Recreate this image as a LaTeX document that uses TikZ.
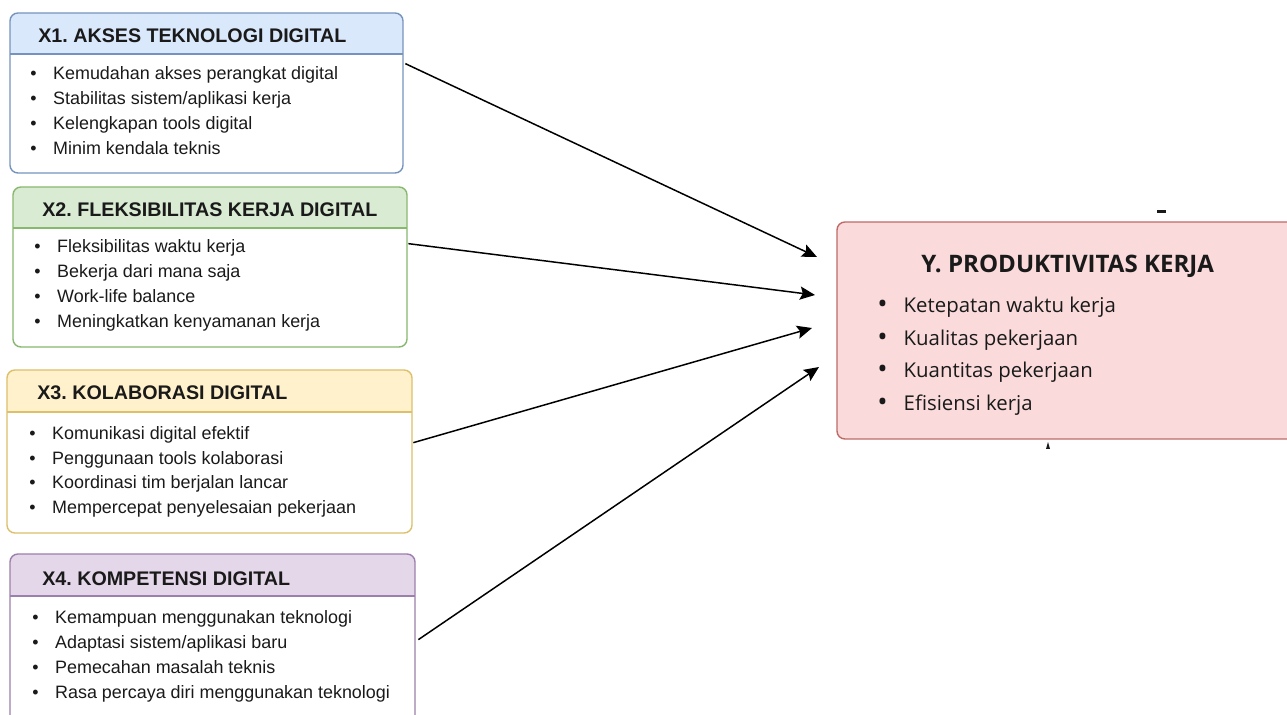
\documentclass[tikz,border=0pt]{standalone}
\usepackage{fontspec}
\setmainfont{Liberation Sans}
\newfontfamily\yfont{Open Sans}
\usetikzlibrary{arrows.meta,fit}
\frenchspacing
\definecolor{bluef}{HTML}{DAE8FC}\definecolor{blued}{HTML}{7593BD}
\definecolor{greenf}{HTML}{D9EBD3}\definecolor{greend}{HTML}{88B86E}
\definecolor{yellowf}{HTML}{FFF1CC}\definecolor{yellowd}{HTML}{DCC06A}
\definecolor{purplef}{HTML}{E4D7EA}\definecolor{purpled}{HTML}{9C7FAC}
\definecolor{redf}{HTML}{FADADA}\definecolor{redd}{HTML}{BE6B68}
\definecolor{txt}{HTML}{1A1A1A}
\tikzset{
  boxline/.style={line width=0.8pt, rounded corners=4.5pt},
  htitle/.style={anchor=base west, inner sep=0pt, font=\fontsize{11.2}{13}\selectfont\bfseries, text=txt},
  item/.style={anchor=base west, inner sep=0pt, font=\fontsize{10.2}{12}\selectfont, text=txt},
  yitem/.style={anchor=base west, inner sep=0pt, font=\yfont\fontsize{11.6}{13}\selectfont, text=txt},
  ytitle/.style={anchor=base west, inner sep=0pt, font=\yfont\bfseries\fontsize{13.7}{15}\selectfont, text=txt},
  conn/.style={line width=0.85pt, -{Stealth[length=8.5pt,width=7.5pt,inset=1.5pt]}},
}
\newcommand\mkbox[8]{%
  \begin{scope}
    \clip[rounded corners=4.5pt] (#2,#3) rectangle (#4,#6);
    \fill[#7] (#2,#3) rectangle (#4,#5);
  \end{scope}
  \draw[boxline, draw=#8] (#2,#3) rectangle (#4,#6);
  \draw[line width=0.8pt, draw=#8] (#2,#5) -- (#4,#5);
  \node[fit={(#2,#3) (#4,#6)}, inner sep=0pt] (#1) {};
}
\newcommand\ybul{\makebox[15pt][l]{\raisebox{-0.3pt}{\scalebox{1.35}{\textbullet}}}}
\begin{document}
\begin{tikzpicture}[x=0.02cm,y=-0.02cm]
\clip (0,0) rectangle (1287,715);
\fill[white] (0,0) rectangle (1287,715);

% X1
\mkbox{x1}{10}{13}{403}{54}{173}{bluef}{blued}
\node[htitle] (x1t) at (38,43) {X1. AKSES TEKNOLOGI DIGITAL};
\foreach \t [count=\i] in {Kemudahan akses perangkat digital, Stabilitas sistem/aplikasi kerja, Kelengkapan tools digital, Minim kendala teknis}
  \node[item] (x1i\i) at (30,55+25*\i) {\makebox[13pt][l]{\textbullet}\t};

% X2
\mkbox{x2}{13}{187}{407}{228}{347}{greenf}{greend}
\node[htitle] (x2t) at (42,217) {X2. FLEKSIBILITAS KERJA DIGITAL};
\foreach \t [count=\i] in {Fleksibilitas waktu kerja, Bekerja dari mana saja, Work-life balance, Meningkatkan kenyamanan kerja}
  \node[item] (x2i\i) at (34,228+25*\i) {\makebox[13pt][l]{\textbullet}\t};

% X3
\mkbox{x3}{7}{370}{412}{412}{533}{yellowf}{yellowd}
\node[htitle] (x3t) at (37,400) {X3. KOLABORASI DIGITAL};
\foreach \t [count=\i] in {Komunikasi digital efektif, Penggunaan tools kolaborasi, Koordinasi tim berjalan lancar, Mempercepat penyelesaian pekerjaan}
  \node[item] (x3i\i) at (29,415.5+24.5*\i) {\makebox[13pt][l]{\textbullet}\t};

% X4
\mkbox{x4}{10}{554}{415}{596}{740}{purplef}{purpled}
\node[htitle] (x4t) at (42,585) {X4. KOMPETENSI DIGITAL};
\foreach \t [count=\i] in {Kemampuan menggunakan teknologi, Adaptasi sistem/aplikasi baru, Pemecahan masalah teknis, Rasa percaya diri menggunakan teknologi}
  \node[item] (x4i\i) at (32,598+25*\i) {\makebox[13pt][l]{\textbullet}\t};

% Y
\draw[boxline, fill=redf, draw=redd] (837,222) rectangle (1300,439);
\node[fit={(837,222) (1300,439)}, inner sep=0pt] (y) {};
\node[ytitle] (yt) at (921,273) {Y. PRODUKTIVITAS KERJA};
\foreach \t [count=\i] in {Ketepatan waktu kerja, Kualitas pekerjaan, Kuantitas pekerjaan, Efisiensi kerja}
  \node[yitem] (yi\i) at (877,280.5+32.5*\i) {\ybul\t};

% small marks
\fill[txt] (1157,210.5) rectangle (1166,213.5);
\fill[txt] (1048,442) -- (1050,449) -- (1046,449) -- cycle;

% connectors
\coordinate (t1) at (817,257);
\coordinate (t2) at (815,295);
\coordinate (t3) at (812,328);
\coordinate (t4) at (819,367);
\draw[conn] ([shift={(2,51)}]x1.north east) -- (t1);
\draw[conn] ([shift={(1,57)}]x2.north east) -- (t2);
\draw[conn] ([shift={(1,73)}]x3.north east) -- (t3);
\draw[conn] ([shift={(3,86)}]x4.north east) -- (t4);
\end{tikzpicture}
\end{document}
